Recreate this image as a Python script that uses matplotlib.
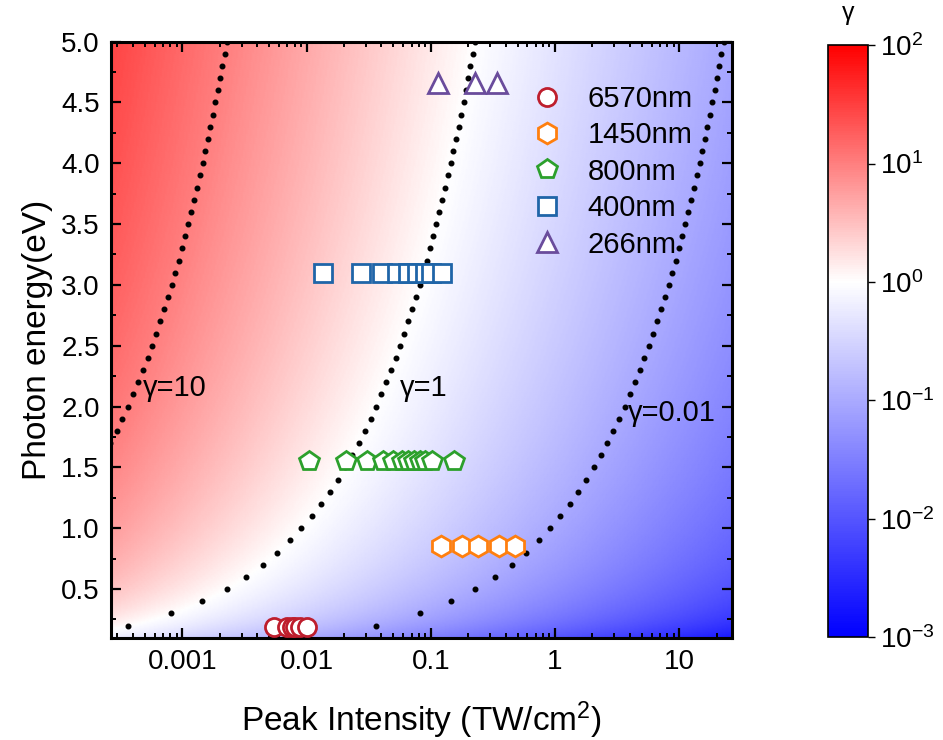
import numpy as np
import matplotlib
matplotlib.use("Agg")
import matplotlib.pyplot as plt
from matplotlib.colors import LinearSegmentedColormap, LogNorm
from matplotlib.ticker import FixedLocator, LogLocator, MultipleLocator, NullFormatter

plt.rcParams["font.family"] = ["Liberation Sans", "DejaVu Sans"]
plt.rcParams["mathtext.fontset"] = "custom"
plt.rcParams["mathtext.rm"] = "Liberation Sans"
plt.rcParams["mathtext.default"] = "regular"

# measured points: peak intensity (TW/cm^2) at each photon energy (eV)
labels = ["6570nm", "1450nm", "800nm", "400nm", "266nm"]
energies = [0.19, 0.855, 1.55, 3.1, 4.66]
intensities = [
    [0.00545, 0.0069, 0.0076, 0.0081, 0.0088, 0.0100],
    [0.12, 0.178, 0.24, 0.354, 0.48],
    [0.0104, 0.0206, 0.0305, 0.0415, 0.050, 0.0583, 0.066, 0.0738, 0.082, 0.090, 0.103, 0.155],
    [0.0136, 0.0274, 0.0403, 0.0532, 0.066, 0.078, 0.090, 0.100, 0.123],
    [0.115, 0.229, 0.339],
]
markers = ["o", "h", "p", "s", "^"]
marker_sizes = [13, 15, 15, 12.5, 15]
colors = ["#BE1E2D", "#FF7F0E", "#2CA02C", "#1F65A8", "#6A4C9C"]

# iso-gamma guide lines: intensity at 1 eV (I scales with E^2)
line_labels = ["γ=10", "γ=1", "γ=0.01"]
line_I_at_1eV = [9.1e-5, 9.06e-3, 0.912]
line_label_pos = [(0.00048, 2.15), (0.056, 2.15), (3.86, 1.945)]
line_E = np.round(np.arange(0.2, 5.01, 0.1), 2)

# Keldysh-type parameter field: gamma = k * E / sqrt(I)
gamma_k = np.sqrt(9.06e-3)
xlim = (2.66e-4, 26.6)
ylim = (0.1, 5.0)

cmap = LinearSegmentedColormap.from_list(
    "gamma", [(0.0, (0, 0, 1)), (0.6, (1, 1, 1)), (1.0, (1, 0, 0))]
)
norm = LogNorm(1e-3, 1e2)

fig = plt.figure(figsize=(9.43, 7.4), dpi=100)
ax = fig.add_axes([0.1177, 0.1382, 0.6585, 0.8057])

grid_I = np.logspace(np.log10(xlim[0]), np.log10(xlim[1]), 400)
grid_E = np.linspace(ylim[0], ylim[1], 300)
II, EE = np.meshgrid(grid_I, grid_E)
gamma = gamma_k * EE / np.sqrt(II)
mesh = ax.pcolormesh(II, EE, gamma, cmap=cmap, norm=norm, shading="gouraud", rasterized=True)

for i1, lab, pos in zip(line_I_at_1eV, line_labels, line_label_pos):
    ax.plot(i1 * line_E ** 2, line_E, linestyle="none", marker="o", ms=3.3,
            color="black", zorder=3)
    ax.text(pos[0], pos[1], lab, fontsize=21, va="center", ha="left", zorder=4)

for lab, e, xs, m, s, c in zip(labels, energies, intensities, markers, marker_sizes, colors):
    ax.plot(xs, [e] * len(xs), linestyle="none", marker=m, ms=s,
            mfc="white", mec=c, mew=2.0, label=lab, zorder=5)

ax.set_xscale("log")
ax.set_xlim(*xlim)
ax.set_ylim(*ylim)
ax.xaxis.set_major_locator(FixedLocator([0.001, 0.01, 0.1, 1, 10]))
ax.set_xticklabels(["0.001", "0.01", "0.1", "1", "10"])
ax.xaxis.set_minor_locator(LogLocator(base=10, subs=np.arange(2, 10)))
ax.xaxis.set_minor_formatter(NullFormatter())
ax.yaxis.set_major_locator(MultipleLocator(0.5))
ax.yaxis.set_minor_locator(MultipleLocator(0.25))
ax.yaxis.set_major_formatter(matplotlib.ticker.FormatStrFormatter("%.1f"))

ax.tick_params(which="both", direction="in", top=True, right=True, labelsize=20)
ax.tick_params(which="major", length=7, width=1.6, pad=8)
ax.tick_params(which="minor", length=3.5, width=1.4)
for sp in ax.spines.values():
    sp.set_linewidth(2.2)

ax.set_xlabel("Peak Intensity (TW/cm$^2$)", fontsize=24, labelpad=18)
ax.set_ylabel("Photon energy(eV)", fontsize=24, labelpad=6)

leg = ax.legend(loc="upper left", bbox_to_anchor=(0.657, 0.947), frameon=False,
                fontsize=21, handletextpad=0.85, labelspacing=0.29, borderaxespad=0,
                handlelength=1.1)

cax = fig.add_axes([0.878, 0.139, 0.0424, 0.8])
cb = fig.colorbar(mesh, cax=cax)
cb.set_ticks([1e-3, 1e-2, 1e-1, 1, 10, 100])
cb.set_ticklabels(["10$^{-3}$", "10$^{-2}$", "10$^{-1}$", "10$^{0}$", "10$^{1}$", "10$^{2}$"])
cb.ax.minorticks_off()
cb.ax.tick_params(labelsize=20, length=5, width=1, direction="out")
cb.outline.set_linewidth(1.2)
cb.ax.set_title("γ", fontsize=18, pad=18)

fig.savefig("out.png", dpi=100)
